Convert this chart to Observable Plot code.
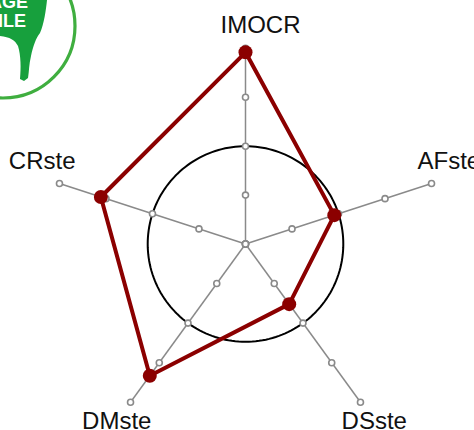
<!DOCTYPE html>
<html>
<head>
<meta charset="utf-8">
<script src="https://cdn.jsdelivr.net/npm/d3@7"></script>
<script src="https://cdn.jsdelivr.net/npm/@observablehq/plot@0.6"></script>
<style>
  html, body { margin: 0; padding: 0; background: #fff; }
  #wrap { position: relative; width: 474px; height: 430px; overflow: hidden; }
  #logo { position: absolute; left: 0; top: 0; }
  #chart { position: absolute; left: 0; top: 0; }
</style>
</head>
<body>
<div id="wrap">
  <div id="chart"></div>
  <svg id="logo" width="90" height="105" viewBox="0 0 90 105">
    <circle cx="3" cy="26" r="72" fill="none" stroke="#3fae3f" stroke-width="3.2"/>
    <path d="M0,0 L47,0 C46,10 44,24 40,33 C36,38 33,46 31,56 C29,64 29,72 28,78 L24,81 L20,79 C21,68 21,56 18,46 C15,40 10,37 0,36 Z" fill="#17a03d"/>
    <text x="28" y="7.5" text-anchor="end" fill="#fff" font-family="'Liberation Sans', Arial, sans-serif" font-weight="bold" font-size="18">AGE</text>
    <text x="26" y="27" text-anchor="end" fill="#fff" font-family="'Liberation Sans', Arial, sans-serif" font-weight="bold" font-size="18">ILE</text>
  </svg>
</div>
<script>
// ---- data ----
const axes = ["IMOCR", "AFste", "DSste", "DMste", "CRste"];
const values = [1.92, -0.09, -0.48, 1.33, 1.11];
const tickValues = [-2, -1, 0, 1, 2];
const refValue = 0;

// ---- geometry helpers ----
const rMin = -2, rMax = 2;
const U = 48.9;              // px per unit
const cx = 245, cy = 243.5;  // center in pixels
const W = 474, H = 430;
const ang = i => Math.PI / 2 - i * 2 * Math.PI / axes.length;
const pos = (i, v) => {
  const r = v - rMin;
  return {x: r * Math.cos(ang(i)), y: r * Math.sin(ang(i))};
};

const spokes = axes.map((a, i) => {
  const e = pos(i, rMax);
  return {axis: a, x2: e.x, y2: e.y};
});
const tickPts = axes.flatMap((a, i) => tickValues.map(t => ({axis: a, ...pos(i, t)})));
const circlePts = d3.range(0, 361, 2).map(d => {
  const t = d * Math.PI / 180, r = refValue - rMin;
  return {x: r * Math.cos(t), y: r * Math.sin(t)};
});
const seriesPts = axes.map((a, i) => ({axis: a, value: values[i], ...pos(i, values[i])}));

const labelR = 4.48;
const labelPts = axes.map((a, i) => {
  const dx = Math.cos(ang(i)), dy = Math.sin(ang(i));
  let x = labelR * dx, y = labelR * dy;
  if (Math.abs(dx) < 0.1) x += 15 / U;                 // top label nudge
  else if (dy > 0) { y += 15 / U; x -= Math.sign(dx) * 5 / U; } // side labels raised
  return {axis: a, x, y};
});

const chart = Plot.plot({
  width: W,
  height: H,
  margin: 0,
  x: {domain: [-cx / U, (W - cx) / U], axis: null},
  y: {domain: [-(H - cy) / U, cy / U], axis: null},
  style: {fontFamily: "'Liberation Sans', Arial, sans-serif", background: "white"},
  marks: [
    Plot.line(circlePts, {x: "x", y: "y", stroke: "black", strokeWidth: 2}),
    Plot.link(spokes, {x1: 0, y1: 0, x2: "x2", y2: "y2", stroke: "#8a8a8a", strokeWidth: 1.5}),
    Plot.dot(tickPts, {x: "x", y: "y", r: 3, fill: "white", stroke: "#8a8a8a", strokeWidth: 1.6}),
    Plot.line(seriesPts, {x: "x", y: "y", stroke: "#8b0000", strokeWidth: 4, curve: "linear-closed"}),
    Plot.dot(seriesPts, {x: "x", y: "y", r: 7, fill: "#8b0000"}),
    Plot.text(labelPts, {x: "x", y: "y", text: "axis", fontSize: 24, fill: "#111", textAnchor: "middle"})
  ]
});
document.getElementById("chart").appendChild(chart);
</script>
</body>
</html>
